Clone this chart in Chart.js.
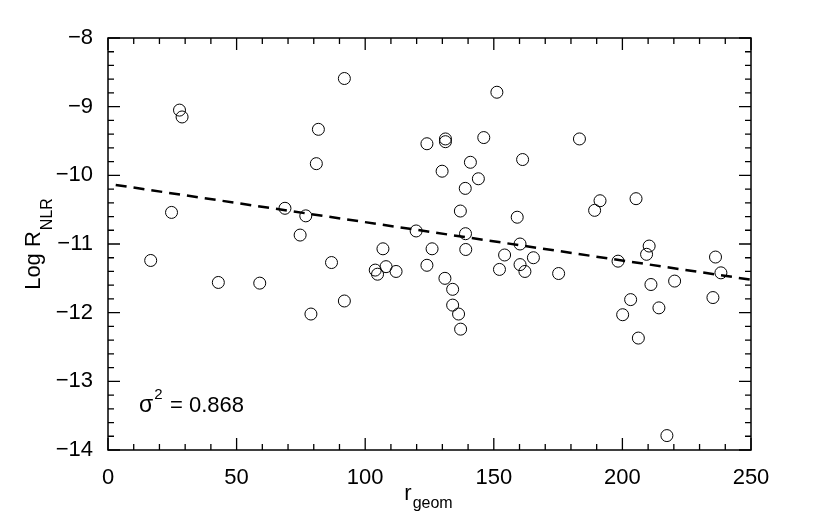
<!DOCTYPE html>
<html>
<head>
<meta charset="utf-8">
<script src="https://cdn.jsdelivr.net/npm/chart.js@4"></script>
<style>
  html, body { margin: 0; padding: 0; background: #fff; }
  #wrap { width: 830px; height: 511px; }
</style>
</head>
<body>
<div id="wrap"><canvas id="myChart"></canvas></div>
<script>
// r_geom and Log R_NLR of each object
const rGeom = [
  16.6, 24.7, 27.8, 28.8, 42.9, 59.0, 68.8, 74.7, 76.9, 78.9,
  81.0, 81.8, 86.9, 91.9, 91.9, 103.9, 104.8, 106.9, 108.1, 112.0,
  119.8, 124.0, 124.0, 126.0, 129.9, 131.0, 131.2, 131.2, 134.0, 134.0,
  136.3, 137.1, 137.0, 138.9, 139.0, 139.1, 140.9, 144.0, 146.1, 151.2,
  152.2, 154.2, 159.1, 160.2, 160.2, 161.2, 162.1, 165.4, 175.2, 183.3,
  189.2, 191.3, 198.3, 200.1, 203.2, 205.3, 206.2, 209.4, 210.4, 211.1,
  214.2, 217.3, 220.3, 235.2, 236.2, 238.3
];
const logRnlr = [
  -11.24, -10.54, -9.05, -9.15, -11.56, -11.57, -10.48, -10.87, -10.59, -12.02,
  -9.83, -9.33, -11.27, -8.59, -11.83, -11.38, -11.44, -11.07, -11.33, -11.40,
  -10.81, -9.54, -11.31, -11.07, -9.94, -11.50, -9.47, -9.51, -11.66, -11.89,
  -12.02, -12.24, -10.52, -10.19, -10.85, -11.08, -9.81, -10.05, -9.45, -8.79,
  -11.37, -11.16, -10.61, -11.00, -11.30, -9.77, -11.40, -11.20, -11.43, -9.47,
  -10.51, -10.37, -11.25, -12.03, -11.81, -10.34, -12.37, -11.15, -11.03, -11.59,
  -11.93, -13.79, -11.54, -11.78, -11.19, -11.42
];

// dashed fit line ends
const fitX = [3, 250];
const fitY = [-10.14, -11.52];

const sigmaLabel = "0.868";

const FONT = "'Liberation Sans', Arial, Helvetica, sans-serif";
const minus = v => String(v).replace("-", "\u2212");

// frame, inward ticks, axis titles and the sigma note
const decor = {
  id: "decor",
  afterDraw(chart) {
    const {ctx, chartArea: a, scales: {x, y}} = chart;
    ctx.save();
    ctx.strokeStyle = "#000";
    ctx.lineWidth = 1.5;
    ctx.strokeRect(a.left, a.top, a.right - a.left, a.bottom - a.top);

    ctx.lineWidth = 1.3;
    ctx.beginPath();
    for (let v = 0; v <= 250; v += 10) {
      const px = x.getPixelForValue(v);
      const len = v % 50 === 0 ? 12 : 6;
      ctx.moveTo(px, a.bottom); ctx.lineTo(px, a.bottom - len);
      ctx.moveTo(px, a.top); ctx.lineTo(px, a.top + len);
    }
    for (let i = 0; i <= 30; i++) {
      const v = -14 + i * 0.2;
      const py = y.getPixelForValue(v);
      const len = i % 5 === 0 ? 12 : 6;
      ctx.moveTo(a.left, py); ctx.lineTo(a.left + len, py);
      ctx.moveTo(a.right, py); ctx.lineTo(a.right - len, py);
    }
    ctx.stroke();

    ctx.fillStyle = "#000";
    ctx.textAlign = "left";
    ctx.textBaseline = "alphabetic";

    // x title: r_geom
    const big = "22px " + FONT, small = "16px " + FONT;
    ctx.font = big;
    const wr = ctx.measureText("r").width;
    ctx.font = small;
    const wg = ctx.measureText("geom").width;
    const cx = (a.left + a.right) / 2 - 1;
    let sx = cx - (wr + 1 + wg) / 2;
    ctx.font = big;
    ctx.fillText("r", sx, 500);
    ctx.font = small;
    ctx.fillText("geom", sx + wr + 1, 508);

    // y title: Log R_NLR
    ctx.save();
    ctx.translate(40, (a.top + a.bottom) / 2);
    ctx.rotate(-Math.PI / 2);
    ctx.font = big;
    const wl = ctx.measureText("Log R").width;
    ctx.font = small;
    const wn = ctx.measureText("NLR").width;
    let su = -(wl + 1 + wn) / 2;
    ctx.font = big;
    ctx.fillText("Log R", su, 0);
    ctx.font = small;
    ctx.fillText("NLR", su + wl + 1, 12);
    ctx.restore();

    // sigma^2 note
    ctx.font = "23px " + FONT;
    ctx.fillText("\u03c3", 139, 412);
    const ws = ctx.measureText("\u03c3").width;
    ctx.font = "15px " + FONT;
    ctx.fillText("2", 139 + ws + 1, 399);
    ctx.font = "22px " + FONT;
    ctx.fillText("= " + sigmaLabel, 170, 412);
    ctx.restore();
  }
};

const ctx = document.getElementById("myChart");
new Chart(ctx, {
  type: "scatter",
  data: {
    datasets: [
      {
        label: "objects",
        data: rGeom.map((r, i) => ({x: r, y: logRnlr[i]})),
        pointRadius: 6,
        pointBorderWidth: 1,
        borderColor: "#000",
        backgroundColor: "rgba(0,0,0,0)",
      },
      {
        label: "fit",
        data: fitX.map((r, i) => ({x: r, y: fitY[i]})),
        showLine: true,
        pointRadius: 0,
        borderColor: "#000",
        borderWidth: 2.5,
        borderDash: [11, 7],
      }
    ]
  },
  options: {
    responsive: true,
    maintainAspectRatio: false,
    animation: false,
    layout: {padding: {top: 38, right: 79, left: 0, bottom: 0}},
    scales: {
      x: {
        type: "linear",
        min: 0, max: 250,
        grid: {display: false},
        border: {display: false},
        ticks: {
          stepSize: 50,
          padding: 7,
          color: "#000",
          font: {size: 22, family: FONT},
          maxRotation: 0,
          callback: minus,
        },
        afterFit(s) { s.height = 61; },
      },
      y: {
        min: -14, max: -8,
        grid: {display: false},
        border: {display: false},
        ticks: {
          stepSize: 1,
          padding: 7,
          color: "#000",
          font: {size: 22, family: FONT},
          callback: minus,
        },
        afterFit(s) { s.width = 108; },
      }
    },
    plugins: {
      legend: {display: false},
      tooltip: {enabled: false},
    },
  },
  plugins: [decor],
});
</script>
</body>
</html>
